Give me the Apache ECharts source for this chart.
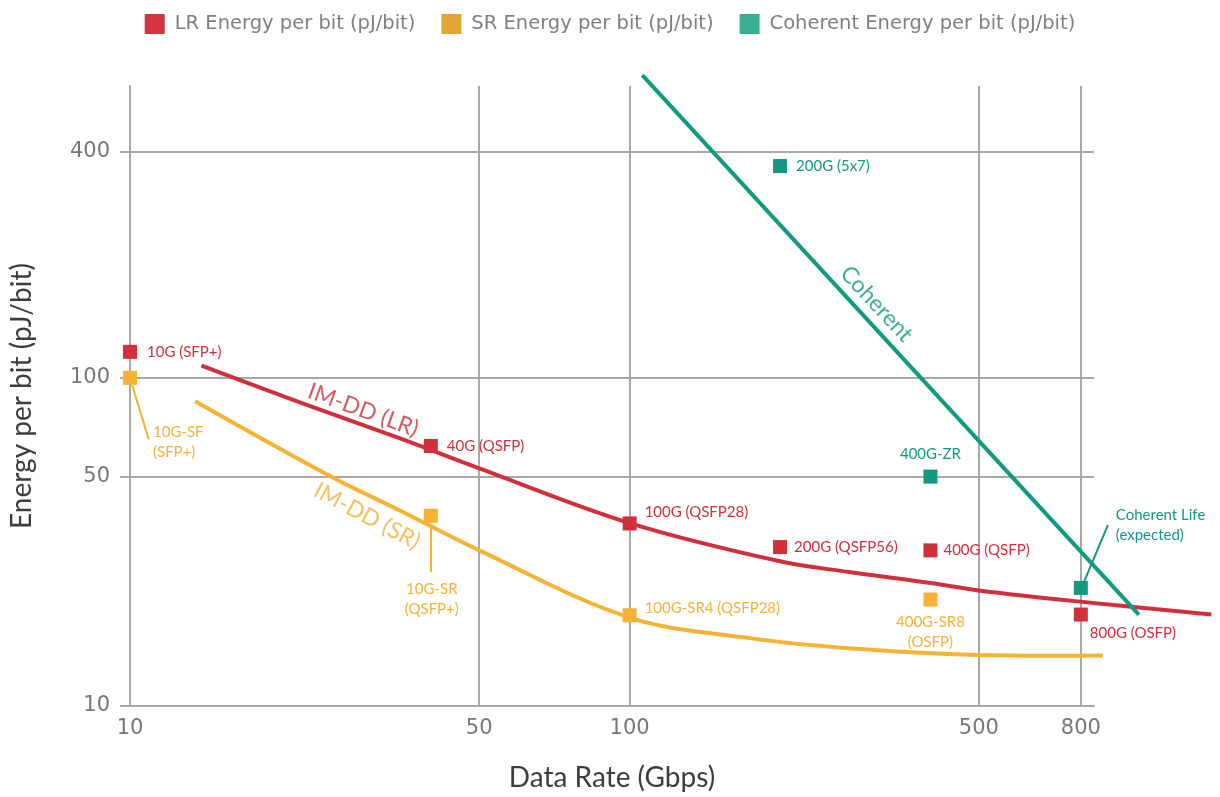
<!DOCTYPE html>
<html>
<head>
<meta charset="utf-8">
<script src="https://cdn.jsdelivr.net/npm/echarts@6/dist/echarts.min.js"></script>
<style>
  html, body { margin: 0; padding: 0; background: #fff; }
  #main { width: 1220px; height: 797px; }
</style>
</head>
<body>
<div id="main"></div>
<script>
// x = data rate (Gbps), y = energy per bit (pJ/bit), both log scale
var xTicks = [10, 50, 100, 500, 800];
var yTicks = [10, 50, 100, 490];
var yTickLabels = ['10', '50', '100', '400'];

var lrName = 'LR Energy per bit (pJ/bit)';
var srName = 'SR Energy per bit (pJ/bit)';
var cohName = 'Coherent Energy per bit (pJ/bit)';

var lrLabels = ['10G (SFP+)', '40G (QSFP)', '100G (QSFP28)', '200G (QSFP56)', '400G (QSFP)', '800G (OSFP)'];
var lrPoints = [[10, 120], [40, 62], [100, 36], [200, 30.5], [400, 29.8], [800, 19]];
var srLabels = ['10G-SF\n(SFP+)', '10G-SR\n(QSFP+)', '100G-SR4 (QSFP28)', '400G-SR8\n(OSFP)'];
var srPoints = [[10, 100], [40, 38], [100, 18.9], [400, 21.1]];
var cohLabels = ['200G (5x7)', '400G-ZR', 'Coherent Life\n(expected)'];
var cohPoints = [[200, 442], [400, 50], [800, 22.9]];

// trend curves
var lrCurve = [[13.9, 109], [21.8, 84.3], [34.6, 65.5], [50, 53], [100, 36.1], [200, 27.6], [275, 25.6], [400, 23.7], [500, 22.5], [796, 20.8], [1460, 19.0]];
var srCurve = [[13.5, 84.9], [25.4, 49.8], [34.6, 39.5], [50, 29.8], [100, 18.6], [174, 16.1], [275, 15.0], [500, 14.3], [885, 14.25]];
var cohLine = [[106, 837], [1045, 19]];

// leader lines from a point to its label
var srLeaders = [[[10.1, 95], [10.9, 65]], [[40, 35.5], [40, 25.6]]];
var cohLeaders = [[[811, 23.8], [906, 35.6]]];

// curve captions
var curveCaptions = ['IM-DD (LR)', 'IM-DD (SR)', 'Coherent'];
var captionAt = [[29.3, 79.7], [29.8, 37.9], [312, 168]];

var RED = '#d12f3b', ORANGE = '#f6b233', TEAL = '#129a80';
var GRID = '#a8a8a8';
var LABEL_FONT = 'Lato';
var TICK_FONT = 'DejaVu Sans';

// label offsets relative to the square's centre
var lrLabelOff = [[17, 0], [16, 0], [15, -11], [14, 0], [13, 0], [9, 19]];
var lrLabelAlign = ['left', 'left', 'left', 'left', 'left', 'left'];
var srLabelOff = [[23, 64], [1, 83], [15, -7], [0, 33]];
var srLabelAlign = ['left', 'center', 'left', 'center'];
var cohLabelOff = [[16, 0], [0, -22], [35, -63]];
var cohLabelAlign = ['left', 'center', 'left'];

function pointData(points, labels, offs, aligns) {
  return points.map(function (p, i) {
    return { value: p, name: labels[i], label: { offset: offs[i], align: aligns[i] } };
  });
}

function pointSeries(name, color, points, labels, offs, aligns) {
  return {
    name: name,
    type: 'scatter',
    symbol: 'rect',
    symbolSize: 14,
    z: 5,
    itemStyle: { color: color, opacity: 1 },
    label: {
      show: true,
      position: 'inside',
      formatter: '{b}',
      color: color,
      fontFamily: LABEL_FONT,
      fontSize: 15,
      lineHeight: 20
    },
    data: pointData(points, labels, offs, aligns)
  };
}

// drawn as a custom polyline so the curve may run past the grid edge
function curveSeries(color, pts, smooth) {
  return {
    type: 'custom',
    coordinateSystem: 'cartesian2d',
    encode: { x: 0, y: 1 },
    clip: false,
    silent: true,
    z: 3,
    data: pts,
    renderItem: function (params, api) {
      if (params.dataIndex !== 0) return null;
      var xy = pts.map(function (p) { return api.coord(p); });
      return {
        type: 'polyline',
        shape: { points: xy, smooth: smooth },
        style: { stroke: color, lineWidth: 4, fill: null, lineCap: 'butt' }
      };
    }
  };
}

function leaderSeries(color, segs) {
  return {
    type: 'lines',
    coordinateSystem: 'cartesian2d',
    clip: false,
    silent: true,
    z: 4,
    lineStyle: { color: color, width: 2, opacity: 1 },
    data: segs.map(function (s) { return { coords: s }; })
  };
}

var captionColors = ['#cc2f39', '#f3b03a', TEAL];
var captionRotate = [-20, -28, -47];

var chart = echarts.init(document.getElementById('main'));
var option = {
  backgroundColor: '#fff',
  animation: false,
  legend: {
    top: 9,
    left: 'center',
    itemWidth: 20,
    itemHeight: 20,
    itemGap: 26,
    icon: 'rect',
    textStyle: { fontFamily: TICK_FONT, fontSize: 19.5, color: '#808080', padding: [0, 0, 0, 5] },
    data: [
      { name: lrName, itemStyle: { color: '#d3363f' } },
      { name: srName, itemStyle: { color: '#e5a534' } },
      { name: cohName, itemStyle: { color: '#39b095' } }
    ]
  },
  grid: { left: 130, right: 126, top: 86, bottom: 91, outerBoundsMode: 'none' },
  xAxis: {
    type: 'log',
    min: 10,
    max: 850,
    name: 'Data Rate (Gbps)',
    nameLocation: 'middle',
    nameGap: 58,
    nameTextStyle: { fontFamily: LABEL_FONT, fontSize: 28, color: '#3d3d3d' },
    axisLine: { show: true, lineStyle: { color: GRID, width: 2 } },
    axisTick: { show: false, customValues: xTicks },
    axisLabel: {
      customValues: xTicks,
      margin: 12,
      fontFamily: TICK_FONT, fontSize: 21, color: '#777',
      formatter: function (v) { return String(Math.round(v)); }
    },
    splitLine: { show: true, lineStyle: { color: GRID, width: 2 } }
  },
  yAxis: {
    type: 'log',
    min: 10,
    max: 775,
    name: 'Energy per bit (pJ/bit)',
    nameLocation: 'middle',
    nameGap: 94,
    nameTextStyle: { fontFamily: LABEL_FONT, fontSize: 28, color: '#3d3d3d' },
    axisLine: { show: true, lineStyle: { color: GRID, width: 2 } },
    axisTick: { show: true, length: 10, customValues: yTicks, lineStyle: { color: GRID, width: 2 } },
    axisLabel: {
      customValues: yTicks,
      margin: 20,
      fontFamily: TICK_FONT, fontSize: 21, color: '#777',
      formatter: function (v) {
        for (var i = 0; i < yTicks.length; i++) {
          if (Math.abs(v - yTicks[i]) < 0.5) return yTickLabels[i];
        }
        return '';
      }
    },
    splitLine: { show: true, lineStyle: { color: GRID, width: 2 } }
  },
  series: [
    curveSeries(RED, lrCurve, 0.35),
    curveSeries(ORANGE, srCurve, 0.35),
    curveSeries(TEAL, cohLine, 0),
    leaderSeries(ORANGE, srLeaders),
    leaderSeries(TEAL, cohLeaders),
    pointSeries(lrName, RED, lrPoints, lrLabels, lrLabelOff, lrLabelAlign),
    pointSeries(srName, ORANGE, srPoints, srLabels, srLabelOff, srLabelAlign),
    pointSeries(cohName, TEAL, cohPoints, cohLabels, cohLabelOff, cohLabelAlign),
    {
      type: 'scatter',
      symbolSize: 0,
      silent: true,
      z: 6,
      label: { show: true, position: 'inside', formatter: '{b}', fontFamily: LABEL_FONT, fontSize: 23 },
      data: curveCaptions.map(function (t, i) {
        return {
          name: t,
          value: captionAt[i],
          label: { color: captionColors[i], rotate: captionRotate[i] }
        };
      })
    }
  ]
};
chart.setOption(option);
</script>
</body>
</html>
